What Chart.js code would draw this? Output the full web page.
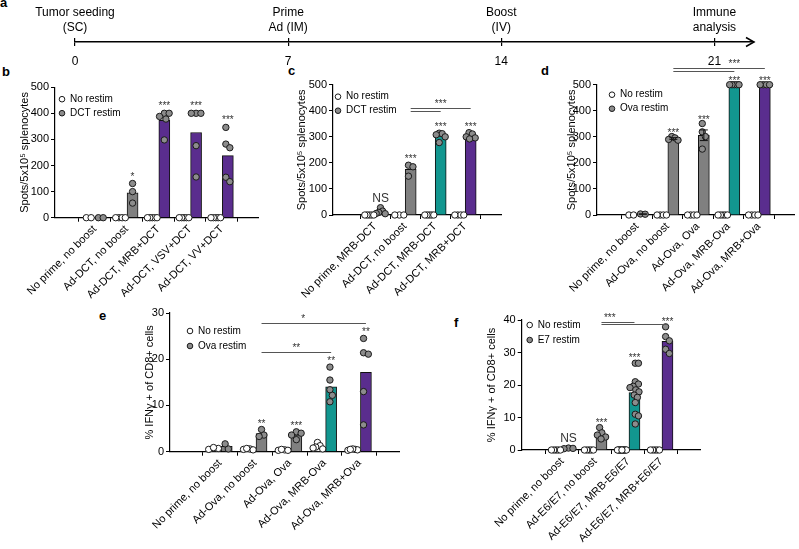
<!DOCTYPE html>
<html>
<head>
<meta charset="utf-8">
<script src="https://cdn.jsdelivr.net/npm/chart.js@4.4.1/dist/chart.umd.min.js"></script>
<style>
  body { margin: 0; background: #fff; width: 799px; height: 549px; position: relative; overflow: hidden; font-family: "Liberation Sans", Arial, sans-serif; }
  canvas { position: absolute; }
  .tag { position: absolute; font-weight: bold; font-size: 13px; line-height: 15px; }
</style>
</head>
<body>
<div class="tag" style="left:0px;top:-5px">a</div>
<div class="tag" style="left:2px;top:64px">b</div>
<div class="tag" style="left:288px;top:63px">c</div>
<div class="tag" style="left:541px;top:63px">d</div>
<div class="tag" style="left:99px;top:308px">e</div>
<div class="tag" style="left:454px;top:315px">f</div>

<canvas id="chartA" width="799" height="75" style="left:0;top:0"></canvas>
<canvas id="chartB" width="270" height="250" style="left:0;top:60px"></canvas>
<canvas id="chartC" width="230" height="250" style="left:280px;top:60px"></canvas>
<canvas id="chartD" width="269" height="270" style="left:530px;top:40px"></canvas>
<canvas id="chartE" width="320" height="249" style="left:95px;top:300px"></canvas>
<canvas id="chartF" width="290" height="249" style="left:430px;top:300px"></canvas>

<script>
// ---- timeline (a)
const days = [0, 7, 14, 21];
const dayTop = ['Tumor seeding', 'Prime', 'Boost', 'Immune'];
const dayBottom = ['(SC)', 'Ad (IM)', '(IV)', 'analysis'];

// ---- b: DCT, ELISPOT
const bGroups = ['No prime, no boost', 'Ad-DCT, no boost', 'Ad-DCT, MRB+DCT', 'Ad-DCT, VSV+DCT', 'Ad-DCT, VV+DCT'];
const bNoRestim = [[0, 0], [0, 0, 0, 0], [0, 0, 0, 0, 0], [0, 0, 0, 0, 0], [0, 0, 0, 0, 0]];
const bRestim = [[0, 0], [131, 100, 56], [400, 400, 388, 378, 298], [400, 400, 400, 276, 156], [346, 282, 268, 155, 138]];
const bStars = ['', '*', '***', '***', '***'];

// ---- c: DCT, ELISPOT
const cGroups = ['No prime, MRB-DCT', 'Ad-DCT, no boost', 'Ad-DCT, MRB-DCT', 'Ad-DCT, MRB+DCT'];
const cNoRestim = [[0, 0, 0, 0, 0], [0, 0, 0], [0, 0, 0, 0, 0], [0, 0, 0, 0]];
const cRestim = [[28, 15, 10, 6, 5], [191, 185, 149], [314, 312, 308, 300, 278], [316, 311, 300, 296, 292]];
const cStars = ['NS', '***', '***', '***'];

// ---- d: Ova, ELISPOT
const dGroups = ['No prime, no boost', 'Ad-Ova, no boost', 'Ad-Ova, Ova', 'Ad-Ova, MRB-Ova', 'Ad-Ova, MRB+Ova'];
const dNoRestim = [[0, 0], [0, 0, 0, 0], [0, 0, 0, 0], [0, 0, 0, 0, 0], [0, 0, 0, 0]];
const dRestim = [[4, 3], [301, 296, 290, 287], [351, 319, 301, 253], [500, 500, 500, 500, 500], [500, 500, 500, 500]];
const dStars = ['', '***', '***', '***', '***'];

// ---- e: Ova, % IFNg+
const eGroups = ['No prime, no boost', 'Ad-Ova, no boost', 'Ad-Ova, Ova', 'Ad-Ova, MRB-Ova', 'Ad-Ova, MRB+Ova'];
const eNoRestim = [[0.5, 0.7, 0.9], [0.6, 0.4, 0.5, 0.7], [0.3, 0.4, 0.5, 0.3], [2.0, 1.3, 1.0, 0.8, 0.6], [0.3, 0.5, 0.4, 0.6, 0.5]];
const eRestim = [[0.6, 1.7], [4.8, 3.6, 3.3], [4.3, 4.0, 3.6, 2.6], [18.3, 15.5, 13.4, 12.2, 10.8], [24.5, 21.4, 21.1, 13.0, 5.8]];
const eStars = ['', '**', '***', '**', '**'];

// ---- f: E7, % IFNg+
const fGroups = ['No prime, no boost', 'Ad-E6/E7, no boost', 'Ad-E6/E7, MRB-E6/E7', 'Ad-E6/E7, MRB+E6/E7'];
const fNoRestim = [[0, 0, 0, 0, 0], [0, 0, 0, 0, 0], [0, 0, 0, 0, 0, 0, 0, 0, 0, 0, 0, 0, 0, 0], [0, 0, 0, 0, 0]];
const fRestim = [[0.6, 0.4, 0.5], [6.9, 5.3, 4.6, 4.0, 3.4], [26.7, 26.7, 21.0, 20.3, 19.6, 19.2, 18.5, 17.9, 16.9, 16.2, 14.6, 11.0, 10.5, 8.0], [37.9, 34.9, 33.6, 31.0, 29.7]];
const fStars = ['NS', '***', '***', '***'];

const GREY = '#808080', TEAL = '#12968f', PURPLE = '#5a2d8e';
const FONT = '"Liberation Sans", Arial, sans-serif';
const SUB = 0.19; // half distance between the two bars of a group

Chart.defaults.font.family = FONT;
Chart.defaults.color = '#000';
Chart.defaults.animation = false;

function mean(a) { return a.reduce((s, v) => s + v, 0) / a.length; }
function sem(a) {
  const m = mean(a);
  return Math.sqrt(a.reduce((s, v) => s + (v - m) * (v - m), 0) / (a.length - 1) / a.length);
}

// simple beeswarm, returns x offsets in axis units
function swarm(values, xPx, yPx) {
  const placed = [];
  const out = new Array(values.length).fill(0);
  const order = values.map((v, i) => i).sort((a, b) => values[b] - values[a]);
  for (const i of order) {
    const py = values[i] * yPx;
    for (let k = 0; k < 80; k++) {
      const dx = (k % 2 ? 1 : -1) * Math.ceil(k / 2);
      if (placed.every(p => Math.hypot(p.x - dx, p.y - py) >= 6)) {
        placed.push({ x: dx, y: py });
        out[i] = dx;
        break;
      }
    }
  }
  const lo = Math.min(...out), hi = Math.max(...out);
  const mid = (lo + hi) / 2;
  const half = (hi - lo) / 2;
  const k = half > 6 ? 6 / half : 1;
  return out.map(v => (v - mid) * k / xPx);
}

const decor = {
  id: 'decor',
  afterDatasetsDraw(chart, args, o) {
    const { ctx, chartArea: a, scales: { x, y } } = chart;
    ctx.save();
    ctx.lineWidth = 1;
    if (o.errorBars) {
      ctx.strokeStyle = '#111';
      o.restim.forEach((v, i) => {
        const e = sem(v);
        if (!e) return;
        const m = mean(v);
        const px = x.getPixelForValue(i + SUB);
        const t = y.getPixelForValue(m + e), b = y.getPixelForValue(m - e);
        ctx.beginPath();
        ctx.moveTo(px, t); ctx.lineTo(px, b);
        ctx.moveTo(px - 4, t); ctx.lineTo(px + 4, t);
        ctx.moveTo(px - 4, b); ctx.lineTo(px + 4, b);
        ctx.stroke();
      });
    }
    // significance marks
    ctx.fillStyle = '#333';
    ctx.textAlign = 'center';
    ctx.textBaseline = 'alphabetic';
    o.stars.forEach((s, i) => {
      if (!s) return;
      const px = x.getPixelForValue(i + SUB);
      const py = y.getPixelForValue(Math.max(...o.restim[i]));
      ctx.font = s === 'NS' ? '12px ' + FONT : '10px ' + FONT;
      ctx.fillText(s, px, py - (s === 'NS' ? 6 : o.starGap));
    });
    // comparison lines
    ctx.strokeStyle = '#555';
    ctx.font = '10px ' + FONT;
    o.brackets.forEach(br => {
      const x1 = x.getPixelForValue(br.from + SUB), x2 = x.getPixelForValue(br.to + SUB);
      const py = Math.round(y.getPixelForValue(br.y)) + 0.5;
      ctx.beginPath();
      ctx.moveTo(x1, py); ctx.lineTo(x2, py);
      ctx.stroke();
      if (br.label) {
        const lx = br.labelAt === undefined ? (x1 + x2) / 2 : x.getPixelForValue(br.labelAt + SUB);
        ctx.fillText(br.label, lx, py - 2);
      }
    });
    // legend
    const ds = chart.data.datasets;
    [ds[2], ds[3]].forEach((d, k) => {
      const cx = a.left + o.legendAt.dx, cy = a.top + o.legendAt.dy + k * o.legendAt.gap;
      ctx.beginPath();
      ctx.arc(cx, cy, 2.8, 0, Math.PI * 2);
      ctx.fillStyle = d.pointBackgroundColor;
      ctx.fill();
      ctx.strokeStyle = d.pointBorderColor;
      ctx.stroke();
      ctx.fillStyle = '#000';
      ctx.font = '10px ' + FONT;
      ctx.textAlign = 'left';
      ctx.textBaseline = 'middle';
      ctx.fillText(d.label, cx + 8, cy);
    });
    ctx.restore();
  }
};

function makePanel(id, p) {
  const n = p.groups.length;
  const plotW = p.w - p.area.left - p.area.right;
  const plotH = p.h - p.area.top - p.area.bottom;
  const xPx = plotW / (n - 0.5 - p.xMin);
  const yPx = plotH / p.yMax;
  const points = (sets, side) => sets.flatMap((vals, i) => {
    const off = swarm(vals, xPx, yPx);
    return vals.map((v, k) => ({ x: i + side * SUB + off[k], y: v }));
  });
  const bar = { type: 'bar', grouped: false, barThickness: 11, borderWidth: 1, borderColor: '#111', borderSkipped: 'start', order: 2 };
  const dot = { type: 'scatter', pointRadius: 3.2, pointBorderWidth: 1, pointBorderColor: '#1a1a1a', clip: false, order: 1 };
  new Chart(document.getElementById(id), {
    type: 'bar',
    data: {
      datasets: [
        { ...bar, data: p.noRestim.map((v, i) => ({ x: i - SUB, y: mean(v) })), backgroundColor: '#fff' },
        { ...bar, data: p.restim.map((v, i) => ({ x: i + SUB, y: mean(v) })), backgroundColor: p.colors },
        { ...dot, label: p.legend[0], data: points(p.noRestim, -1), pointBackgroundColor: '#fff' },
        { ...dot, label: p.legend[1], data: points(p.restim, 1), pointBackgroundColor: '#8c8c8c' }
      ]
    },
    options: {
      responsive: false,
      devicePixelRatio: 1,
      layout: { padding: { left: 0, top: p.area.top, right: p.area.right, bottom: 0 } },
      plugins: {
        legend: { display: false },
        tooltip: { enabled: false },
        decor: { restim: p.restim, stars: p.stars, brackets: p.brackets, legendAt: p.legendAt, errorBars: p.errorBars, starGap: p.starGap }
      },
      scales: {
        x: {
          type: 'linear',
          min: p.xMin,
          max: n - 0.5,
          afterBuildTicks: s => { s.ticks = p.groups.map((g, i) => ({ value: i })); },
          afterFit: s => { s.height = p.area.bottom; },
          ticks: { callback: v => p.groups[v], minRotation: 45, maxRotation: 45, autoSkip: false, font: { size: 11 }, color: '#000', padding: 1 },
          grid: { drawOnChartArea: false, tickLength: 4, color: '#000' },
          border: { color: '#000', width: 1.2 }
        },
        y: {
          min: 0,
          max: p.yMax,
          afterFit: s => { s.width = p.area.left; },
          ticks: { stepSize: p.yStep, font: { size: 11 }, color: '#000', padding: 2 },
          grid: { drawOnChartArea: false, tickLength: 4, color: '#000' },
          border: { color: '#000', width: 1.2 },
          title: { display: true, text: p.yTitle, font: { size: 11 }, color: '#000', padding: { top: p.titlePad, bottom: 0 } }
        }
      }
    },
    plugins: [decor]
  });
}

// ---- timeline
const timeline = {
  id: 'timeline',
  afterDraw(chart) {
    const { ctx, chartArea: a, scales: { x } } = chart;
    ctx.save();
    ctx.fillStyle = '#000';
    ctx.font = '12px ' + FONT;
    ctx.textAlign = 'center';
    ctx.textBaseline = 'middle';
    days.forEach((d, i) => {
      const px = x.getPixelForValue(d);
      ctx.fillText(dayTop[i], px, 13);
      ctx.fillText(dayBottom[i], px, 28);
    });
    ctx.strokeStyle = '#000';
    ctx.lineWidth = 1.5;
    ctx.beginPath();
    ctx.moveTo(a.right - 8, a.bottom - 4.5);
    ctx.lineTo(a.right, a.bottom);
    ctx.lineTo(a.right - 8, a.bottom + 4.5);
    ctx.stroke();
    ctx.restore();
  }
};

new Chart(document.getElementById('chartA'), {
  type: 'scatter',
  data: { datasets: [{ data: days.map(d => ({ x: d, y: 0 })), pointRadius: 0 }] },
  options: {
    responsive: false,
    devicePixelRatio: 1,
    layout: { padding: { left: 75, right: 45, top: 38, bottom: 0 } },
    plugins: { legend: { display: false }, tooltip: { enabled: false } },
    scales: {
      x: {
        type: 'linear', min: 0, max: 22.3,
        afterBuildTicks: s => { s.ticks = days.map(v => ({ value: v })); },
        afterFit: s => { s.height = 33; },
        ticks: { font: { size: 12 }, color: '#000', padding: 8 },
        grid: { drawOnChartArea: true, tickLength: 4, color: '#000', lineWidth: 1.2 },
        border: { color: '#000', width: 1.5 }
      },
      y: { display: false, min: 0, max: 1 }
    }
  },
  plugins: [timeline]
});

makePanel('chartB', {
  groups: bGroups, noRestim: bNoRestim, restim: bRestim, stars: bStars,
  colors: [GREY, GREY, PURPLE, PURPLE, PURPLE], legend: ['No restim', 'DCT restim'],
  yMax: 500, yStep: 100, yTitle: 'Spots/5x10⁵ splenocytes',
  w: 270, h: 250, area: { left: 55, top: 27.2, right: 12, bottom: 92.3 }, xMin: -0.613, titlePad: 18,
  legendAt: { dx: 7, dy: 12, gap: 14 }, brackets: [], errorBars: false, starGap: 4
});

makePanel('chartC', {
  groups: cGroups, noRestim: cNoRestim, restim: cRestim, stars: cStars,
  colors: [GREY, GREY, TEAL, PURPLE], legend: ['No restim', 'DCT restim'],
  yMax: 500, yStep: 100, yTitle: 'Spots/5x10⁵ splenocytes',
  w: 230, h: 250, area: { left: 53, top: 24.7, right: 9, bottom: 95 }, xMin: -0.7, titlePad: 15,
  legendAt: { dx: 5, dy: 12, gap: 14 }, errorBars: false, starGap: 3,
  brackets: [{ from: 1, to: 3, y: 410, label: '***' }, { from: 1, to: 2, y: 398, label: '' }]
});

makePanel('chartD', {
  groups: dGroups, noRestim: dNoRestim, restim: dRestim, stars: dStars,
  colors: [GREY, GREY, GREY, TEAL, PURPLE], legend: ['No restim', 'Ova restim'],
  yMax: 500, yStep: 100, yTitle: 'Spots/5x10⁵ splenocytes',
  w: 269, h: 270, area: { left: 67, top: 44.7, right: 0.5, bottom: 95 }, xMin: -0.667, titlePad: 35,
  legendAt: { dx: 15, dy: 10, gap: 14 }, errorBars: true, starGap: 1,
  brackets: [{ from: 1, to: 4, y: 565, label: '***', labelAt: 3 }, { from: 1, to: 3, y: 553, label: '' }]
});

makePanel('chartE', {
  groups: eGroups, noRestim: eNoRestim, restim: eRestim, stars: eStars,
  colors: [GREY, GREY, GREY, TEAL, PURPLE], legend: ['No restim', 'Ova restim'],
  yMax: 30, yStep: 10, yTitle: '% IFNγ + of CD8+ cells',
  w: 320, h: 249, area: { left: 75, top: 13, right: 15.3, bottom: 97.3 }, xMin: -0.78, titlePad: 48,
  legendAt: { dx: 20, dy: 18, gap: 15 }, errorBars: false, starGap: 3,
  brackets: [{ from: 1, to: 4, y: 27.9, label: '*', labelAt: 2.2 }, { from: 1, to: 3, y: 21.5, label: '**' }]
});

makePanel('chartF', {
  groups: fGroups, noRestim: fNoRestim, restim: fRestim, stars: fStars,
  colors: [GREY, GREY, TEAL, PURPLE], legend: ['No restim', 'E7 restim'],
  yMax: 40, yStep: 10, yTitle: '% IFNγ + of CD8+ cells',
  w: 290, h: 249, area: { left: 91.7, top: 20, right: 20, bottom: 99 }, xMin: -0.552, titlePad: 55,
  legendAt: { dx: 8, dy: 5, gap: 15 }, errorBars: false, starGap: 2,
  brackets: [{ from: 1, to: 2, y: 39.5, label: '***', labelAt: 1.25 }, { from: 1, to: 3, y: 38.7, label: '' }]
});
</script>
</body>
</html>
